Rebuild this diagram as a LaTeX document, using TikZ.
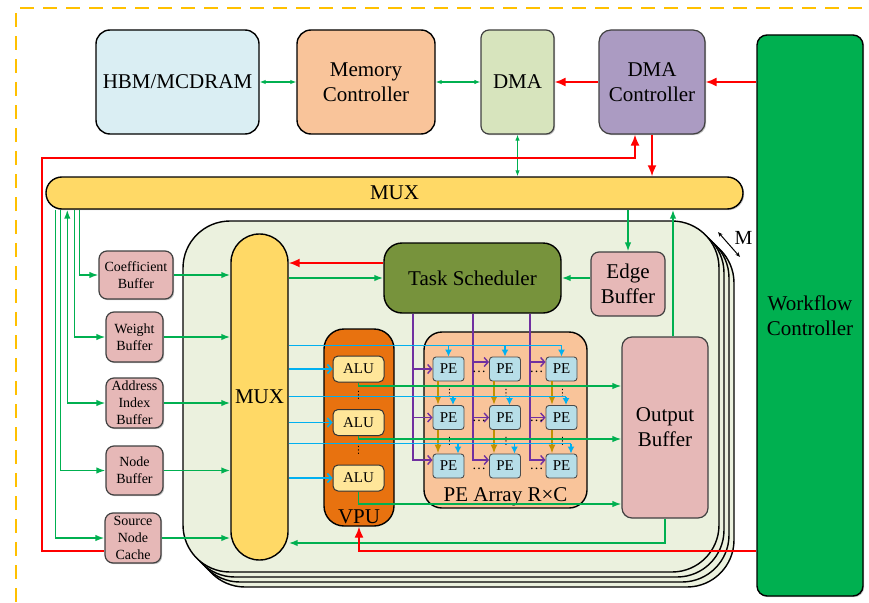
\documentclass[tikz,border=0pt]{standalone}
\usepackage{fontspec}
\setmainfont{Liberation Serif}
\newfontfamily\dvsans{DejaVu Sans}
\usetikzlibrary{arrows.meta,calc,shadows}

\definecolor{cGreen}{HTML}{00B050}
\definecolor{cRed}{HTML}{FF0000}
\definecolor{cBlue}{HTML}{00B0F0}
\definecolor{cPurple}{HTML}{7030A0}
\definecolor{cGold}{HTML}{C29100}
\definecolor{cFrame}{HTML}{FFC000}
\definecolor{cPanel}{HTML}{EBF1DE}
\definecolor{cMux}{HTML}{FFD966}
\definecolor{cHbm}{HTML}{DAEEF3}
\definecolor{cPeach}{HTML}{F9C49A}
\definecolor{cDma}{HTML}{D7E4BD}
\definecolor{cDmac}{HTML}{AB9BC2}
\definecolor{cTask}{HTML}{77933C}
\definecolor{cBuf}{HTML}{E6B8B7}
\definecolor{cVpu}{HTML}{E8720F}
\definecolor{cAlu}{HTML}{FFE699}
\definecolor{cPe}{HTML}{B7DEE8}

\begin{document}
\begin{tikzpicture}[x=1pt,y=-1pt,
  big/.style={font=\fontsize{21}{25}\selectfont},
  shd/.style={drop shadow={shadow xshift=1.2pt,shadow yshift=-1.2pt,fill=black!45}},
  box/.style={draw=black, line width=1.4pt, inner sep=0pt, align=center, big},
  gbox/.style={box, draw=black!75, line width=1.2pt},
  sbox/.style={gbox, fill=cBuf, rounded corners=8pt, font=\fontsize{14}{17}\selectfont, shd},
  alubox/.style={draw=black!80, line width=1pt, fill=cAlu, inner sep=0pt,
    minimum width=51pt, minimum height=26pt, rounded corners=5pt, font=\fontsize{15}{18}\selectfont},
  pebox/.style={draw=black!70, line width=0.9pt, fill=cPe, inner sep=0pt,
    minimum width=31pt, minimum height=24pt, rounded corners=3pt, font=\fontsize{15}{18}\selectfont},
  panel/.style={draw=black, line width=1.4pt, fill=cPanel, rounded corners=47pt,
    minimum width=536pt, minimum height=351pt, inner sep=0pt},
  garr/.style={draw=cGreen, line width=1.6pt, -{Latex[length=9pt,width=6.5pt]}},
  gboth/.style={garr, {Latex[length=9pt,width=6.5pt]}-{Latex[length=9pt,width=6.5pt]}},
  gthin/.style={draw=cGreen, line width=1.1pt, {Latex[length=6pt,width=4.5pt]}-{Latex[length=6pt,width=4.5pt]}},
  rarr/.style={draw=cRed, line width=1.8pt, -{Latex[length=11pt,width=9pt]}},
  barr/.style={draw=cBlue, line width=1.7pt, -{Straight Barb[length=4pt,width=9pt,line width=1.6pt]}},
  bline/.style={draw=cBlue, line width=1.7pt},
  bdown/.style={draw=cBlue, line width=1.7pt, -{Latex[length=7pt,width=7pt]}},
  parr/.style={draw=cPurple, line width=1.4pt, -{Straight Barb[length=4pt,width=9pt,line width=1.4pt]}},
  gold/.style={draw=cGold, line width=1.6pt, -{Latex[length=9pt,width=7pt]}},
  dts/.style={inner sep=0pt, font=\fontsize{14}{17}\selectfont},
  vdts/.style={inner sep=0pt, font=\dvsans\fontsize{10}{12}\selectfont},
]
\useasboundingbox (0,0) rectangle (869,602);

% dashed chip boundary
\draw[draw=cFrame, line width=1.8pt, dash pattern=on 14pt off 9pt] (16,602) -- (16,8) -- (869,8);

% off-core blocks
\node[box, fill=cHbm, minimum width=163pt, minimum height=104pt, rounded corners=14pt] (hbm) at (177.5,82) {HBM/MCDRAM};
\node[box, fill=cPeach, minimum width=138pt, minimum height=104pt, rounded corners=14pt] (memc) at (366,82) {Memory\\Controller};
\node[gbox, fill=cDma, minimum width=73pt, minimum height=104pt, rounded corners=8pt, shd] (dma) at (517.5,82) {DMA};
\node[gbox, fill=cDmac, minimum width=106pt, minimum height=104pt, rounded corners=12pt, shd] (dmac) at (652,82) {DMA\\Controller};
\node[box, fill=cGreen, minimum width=106pt, minimum height=561pt, rounded corners=10pt, shd] (wf) at (810,315.5) {Workflow\\Controller};
\node[box, fill=cMux, minimum width=697pt, minimum height=32pt, rounded corners=15.9pt, shd] (mux) at (394.5,193) {MUX};

% stacked processing cores (M copies)
\node[panel] (core3) at (466,411.5) {};
\node[panel] (core2) at (461,406.5) {};
\node[panel] (core1) at (456,401.5) {};
\node[panel] (core) at (451,396.5) {};
\coordinate (ma) at (718,232);
\coordinate (mb) at (740,257);
\draw[line width=1pt, {Stealth[length=5pt,width=4pt]}-{Stealth[length=5pt,width=4pt]}] (ma) -- (mb);
\node[inner sep=0pt, font=\fontsize{20}{24}\selectfont] (mlbl) at (743.5,238) {M};

% on-chip buffers
\node[sbox, minimum width=74pt, minimum height=48pt] (cb) at (136,275) {Coefficient\\Buffer};
\node[sbox, minimum width=57pt, minimum height=50pt] (wb) at (134.5,337) {Weight\\Buffer};
\node[sbox, minimum width=57pt, minimum height=50pt] (aib) at (134.5,403) {Address\\Index\\Buffer};
\node[sbox, minimum width=57pt, minimum height=49pt] (nb) at (134.5,470.5) {Node\\Buffer};
\node[sbox, minimum width=56pt, minimum height=50pt] (snc) at (133,538) {Source\\Node\\Cache};

% core internals
\node[box, fill=cMux, minimum width=57pt, minimum height=326pt, rounded corners=28.4pt] (imux) at (259.5,397) {MUX};
\node[box, fill=cTask, minimum width=177pt, minimum height=70pt, rounded corners=18pt] (ts) at (472.5,278) {Task Scheduler};
\node[gbox, fill=cBuf, minimum width=74pt, minimum height=64pt, rounded corners=8pt] (eb) at (628,284) {Edge\\Buffer};
\node[gbox, fill=cBuf, minimum width=86pt, minimum height=181pt, rounded corners=10pt] (ob) at (665,427.5) {Output\\Buffer};

\node[box, fill=cVpu, minimum width=70pt, minimum height=197pt, rounded corners=20pt] (vpu) at (359,427.5) {};
\node[big, inner sep=0pt, anchor=base] (vpulbl) at ([yshift=3pt]vpu.south) {VPU};
\node[alubox] (alu1) at (358.5,369) {ALU};
\node[alubox] (alu2) at (358.5,422.5) {ALU};
\node[alubox] (alu3) at (358.5,478) {ALU};
\node[vdts] (vd1) at ($(alu1.south)!0.5!(alu2.north)$) {⋮};
\node[vdts] (vd2) at ($(alu2.south)!0.5!(alu3.north)$) {⋮};

\node[box, fill=cPeach, minimum width=163pt, minimum height=176pt, rounded corners=18pt] (pea) at (505.5,420) {};
\node[big, inner sep=0pt, anchor=base] (pealbl) at ([yshift=7pt]pea.south) {PE Array R×C};
\foreach \r/\y in {1/369,2/417.5,3/466}
  \foreach \c/\x in {1/448.5,2/505,3/561.5}
    \node[pebox] (pe\r\c) at (\x,\y) {PE};

% ---- off-core links
\draw[gthin] (hbm.east) -- (memc.west);
\draw[gthin] (memc.east) -- (dma.west);
\draw[rarr] (dmac.west) -- (dma.east);
\draw[rarr] (wf.west |- dmac.east) -- (dmac.east);
\draw[gthin] (dma.south) -- (dma.south |- mux.north);
\draw[rarr] (dmac.south) -- (dmac.south |- mux.north);
\coordinate (loop) at (42,158);
\draw[rarr] ([yshift=-13pt]snc.west) -| (loop) -| ([xshift=-17pt]dmac.south);

% MUX taps feeding the buffers
\draw[garr] ([xshift=34pt]mux.south west) |- (cb.west);
\draw[garr] ([xshift=29pt]mux.south west) |- (wb.west);
\draw[gboth] ([xshift=22pt]mux.south west) |- (aib.west);
\draw[garr] ([xshift=15pt]mux.south west) |- (nb.west);
\draw[garr] ([xshift=10pt]mux.south west) |- (snc.west);
\foreach \b in {cb,wb,aib,nb,snc}
  \draw[garr] (\b.east) -- (\b.east -| imux.west);

% ---- core links
\draw[rarr] ([yshift=15pt]ts.west) -- ([yshift=15pt]ts.west -| imux.east);
\draw[garr] (ts.west -| imux.east) -- (ts.west);
\draw[garr] (eb.west |- ts.east) -- (ts.east);
\draw[garr] (mux.south -| eb.north) -- (eb.north);
\draw[garr] ([xshift=8pt]ob.north) -- ([xshift=8pt]ob.north |- mux.south);
\draw[garr] (ob.south) |- ([yshift=-146pt]imux.east);
\draw[rarr, line width=1.4pt] ([yshift=-235.5pt]wf.west) -| (vpu.south);

% PE array: vertical forwarding
\foreach \c/\dx in {1/-10.5,2/-11,3/-9.5}{
  \draw[gold] ([xshift=\dx pt]pe1\c.south) -- ([xshift=\dx pt]pe2\c.north);
  \draw[gold] ([xshift=\dx pt]pe2\c.south) -- ([xshift=\dx pt]pe3\c.north);
  \node[vdts] (cd1\c) at ($(pe1\c.south)!0.5!(pe2\c.north)+(1,0)$) {⋮};
  \node[vdts] (cd2\c) at ($(pe2\c.south)!0.5!(pe3\c.north)+(1,0)$) {⋮};
}

% task scheduler dispatch to PE columns
\foreach \c/\dx/\g in {1/-59.5/20,2/0.5/16.5,3/57.5/16}{
  \draw[parr] ([xshift=\dx pt]ts.south) |- ([yshift=6pt]pe3\c.west);
  \draw[parr] ([xshift=-\g pt]pe2\c.west) -- (pe2\c.west);
}
\draw[parr] ([xshift=-20pt]pe11.west) -- (pe11.west);
\draw[parr] ([xshift=-16.5pt,yshift=7pt]pe12.west) -- ([yshift=7pt]pe12.west);
\draw[parr] ([xshift=-16pt,yshift=7pt]pe13.west) -- ([yshift=7pt]pe13.west);
\foreach \r in {1,2,3}{
  \node[dts] (hd\r2) at ([xshift=-10pt,yshift=-3pt]pe\r2.west) {\dots};
  \node[dts] (hd\r3) at ([xshift=-9pt,yshift=-3pt]pe\r3.west) {\dots};
}

% VPU results to output buffer
\draw[garr] (alu1.south) |- ([yshift=41.5pt]ob.west);
\draw[garr] (alu2.south) |- ([yshift=-11.5pt]ob.west);
\draw[garr] (alu3.south) |- ([yshift=-76.5pt]ob.west);

% operands from MUX to ALUs
\foreach \a in {alu1,alu2,alu3}
  \draw[barr] (\a.west -| imux.east) -- (\a.west);

% operands from MUX to PE rows
\foreach \r/\dy/\dx in {1/11/0,2/8.5/4.5,3/10/9.5}{
  \draw[bline] ([yshift=\dy pt]pe\r1.north -| imux.east) -- ([xshift=\dx pt,yshift=\dy pt]pe\r3.north);
  \foreach \c in {1,2,3}
    \draw[bdown] ([xshift=\dx pt,yshift=\dy pt]pe\r\c.north) -- ([xshift=\dx pt]pe\r\c.north);
}
\end{tikzpicture}
\end{document}
